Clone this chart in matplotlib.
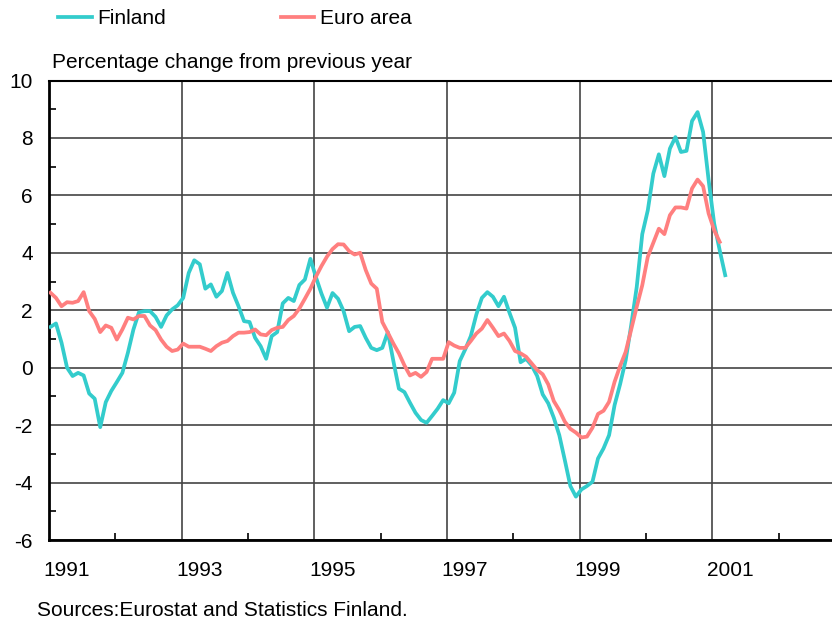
import numpy as np
import matplotlib.pyplot as plt
import matplotlib.transforms as mtransforms
from matplotlib.ticker import MultipleLocator

plt.rcParams['font.family'] = ['Liberation Sans', 'DejaVu Sans']
plt.rcParams['axes.unicode_minus'] = False

# monthly inflation, % change from previous year, starting January 1991
finland = [1.42, 1.54, 0.87, 0.0, -0.29, -0.18, -0.27, -0.9, -1.08, -2.07, -1.2, -0.81,
           -0.5, -0.18, 0.52, 1.33, 1.93, 1.97, 1.97, 1.77, 1.42, 1.82, 2.03, 2.17,
           2.43, 3.3, 3.74, 3.6, 2.75, 2.9, 2.47, 2.67, 3.3, 2.61, 2.14, 1.62,
           1.59, 1.04, 0.75, 0.31, 1.1, 1.24, 2.24, 2.43, 2.32, 2.88, 3.07, 3.79,
           3.15, 2.58, 2.09, 2.6, 2.4, 1.97, 1.27, 1.42, 1.45, 1.04, 0.69, 0.61,
           0.69, 1.24, 0.23, -0.73, -0.85, -1.22, -1.57, -1.82, -1.92, -1.68, -1.43, -1.13,
           -1.24, -0.87, 0.23, 0.64, 1.1, 1.85, 2.43, 2.63, 2.47, 2.14, 2.47, 1.91,
           1.39, 0.19, 0.31, 0.08, -0.29, -0.93, -1.24, -1.74, -2.35, -3.22, -4.12, -4.49,
           -4.24, -4.12, -3.97, -3.16, -2.81, -2.35, -1.3, -0.57, 0.26, 1.48, 2.81, 4.65,
           5.48, 6.76, 7.43, 6.67, 7.63, 8.03, 7.51, 7.55, 8.59, 8.9, 8.21, 6.53,
           5.02, 4.09, 3.22]

euro = [2.61, 2.43, 2.14, 2.28, 2.26, 2.32, 2.63, 1.97, 1.7, 1.24, 1.47, 1.39,
        0.98, 1.33, 1.74, 1.68, 1.8, 1.8, 1.47, 1.31, 0.98, 0.73, 0.58, 0.63,
        0.84, 0.73, 0.73, 0.73, 0.66, 0.58, 0.75, 0.87, 0.93, 1.1, 1.22, 1.22,
        1.24, 1.33, 1.16, 1.13, 1.31, 1.39, 1.42, 1.66, 1.8, 2.06, 2.4, 2.75,
        3.17, 3.54, 3.87, 4.13, 4.3, 4.29, 4.06, 3.94, 4.0, 3.4, 2.93, 2.75,
        1.59, 1.22, 0.84, 0.5, 0.08, -0.27, -0.18, -0.32, -0.15, 0.31, 0.31, 0.31,
        0.89, 0.77, 0.69, 0.69, 0.93, 1.19, 1.36, 1.66, 1.39, 1.1, 1.19, 0.93,
        0.58, 0.5, 0.38, 0.15, -0.08, -0.23, -0.58, -1.16, -1.48, -1.88, -2.13, -2.26,
        -2.43, -2.4, -2.09, -1.61, -1.5, -1.19, -0.49, 0.06, 0.55, 1.33, 2.12, 2.87,
        3.86, 4.35, 4.84, 4.65, 5.31, 5.58, 5.58, 5.54, 6.24, 6.55, 6.32, 5.37,
        4.79, 4.38]

year_labels = ['1991', '1993', '1995', '1997', '1999', '2001']

t_fi = 1991 + (np.arange(len(finland)) + 0.3) / 12
t_eu = 1991 + (np.arange(len(euro)) + 0.3) / 12

teal = '#33cccc'
salmon = '#ff7f7f'

fig = plt.figure(figsize=(8.32, 6.24), dpi=100)
ax = fig.add_axes([48.8 / 832, 84 / 624, 1 - 48.8 / 832, 459.5 / 624])

ax.plot(t_fi, finland, color=teal, lw=2.7, label='Finland', zorder=3)
ax.plot(t_eu, euro, color=salmon, lw=2.7, label='Euro area', zorder=3)

ax.set_xlim(1991, 1991 + (832 - 48.8) / 66.37)
ax.set_ylim(-6, 10)

# y axis: labels every 2, small inward ticks in between
ax.yaxis.set_major_locator(MultipleLocator(2))
ax.yaxis.set_minor_locator(MultipleLocator(1))
ax.tick_params(axis='y', which='major', length=0, pad=11.5, labelsize=15)
ax.tick_params(axis='y', which='minor', direction='in', length=5, width=1.2)

# x axis: every year ticked, every second year labelled
ax.set_xticks([int(y) for y in year_labels])
ax.set_xticklabels(year_labels)
ax.xaxis.set_minor_locator(MultipleLocator(1))
ax.tick_params(axis='x', which='major', length=0, pad=15, labelsize=15)
ax.tick_params(axis='x', which='minor', direction='in', length=5, width=1.2)
shift = mtransforms.ScaledTranslation(0.18, 0, fig.dpi_scale_trans)
for lab in ax.get_xticklabels():
    lab.set_transform(lab.get_transform() + shift)

ax.grid(True, which='major', color='#444444', lw=1.2)
ax.set_axisbelow(True)

for side in ['left', 'bottom']:
    ax.spines[side].set_linewidth(2)
ax.spines['top'].set_linewidth(1.5)
ax.spines['right'].set_visible(False)

fig.text(52 / 832, 1 - 62 / 624, 'Percentage change from previous year',
         fontsize=15, va='center', ha='left')
fig.text(37 / 832, 1 - 610 / 624, 'Sources:Eurostat and Statistics Finland.',
         fontsize=15, va='center', ha='left')

fig.legend(loc='center left', bbox_to_anchor=(58 / 832, 1 - 19 / 624), ncol=2,
           frameon=False, fontsize=15, handlelength=1.63, handletextpad=0.25,
           columnspacing=5.5, borderaxespad=0, borderpad=0)

fig.savefig('out.png', dpi=100)
